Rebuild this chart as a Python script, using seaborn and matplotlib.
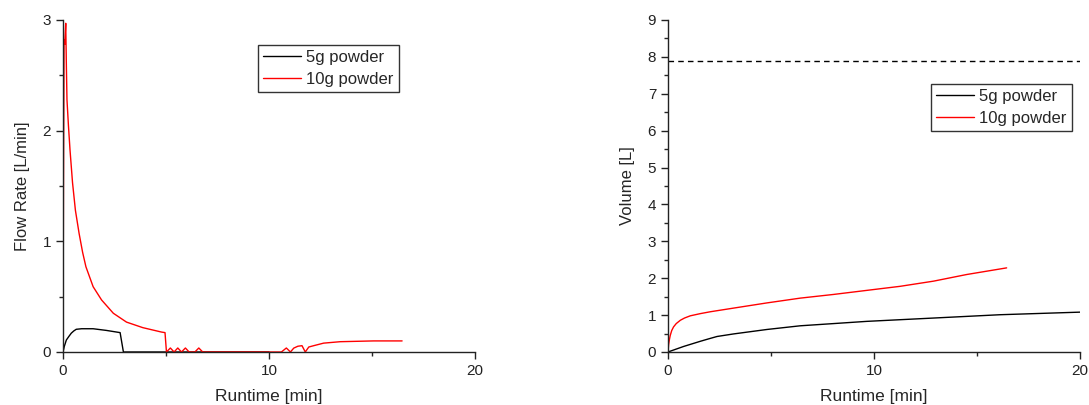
import matplotlib
matplotlib.use('Agg')
import matplotlib.pyplot as plt
import pandas as pd
import seaborn as sns
from matplotlib.ticker import MultipleLocator

# Flow rate data
flow_5g_t = [0, 0.06, 0.16, 0.28, 0.4, 0.52, 0.64, 0.9, 1.46, 2.1, 2.77, 2.93, 4.0, 6.6, 10.0]
flow_5g_v = [0, 0.05, 0.108, 0.14, 0.17, 0.19, 0.205, 0.21, 0.21, 0.195, 0.175, 0, 0, 0, 0]

flow_10g_t = [0, 0.02, 0.05, 0.08, 0.13, 0.16, 0.19, 0.26, 0.34, 0.46, 0.6, 0.78, 0.95, 1.11, 1.46, 1.87,
              2.44, 3.08, 3.87, 4.78, 4.95,
              5.02, 5.21, 5.39, 5.57, 5.75, 5.94, 6.12, 6.4, 6.59, 6.78, 10.6, 10.84, 11.04, 11.2, 11.4, 11.6,
              11.76, 11.93, 12.17, 12.65, 13.46, 15.08, 16.46]
flow_10g_v = [0, 1.5, 2.82, 2.78, 2.97, 2.6, 2.28, 2.05, 1.82, 1.53, 1.28, 1.07, 0.9, 0.77, 0.59, 0.47,
              0.35, 0.27, 0.22, 0.18, 0.175,
              0, 0.036, 0, 0.036, 0, 0.036, 0, 0, 0.036, 0, 0, 0.036, 0, 0.035, 0.052, 0.057,
              0, 0.045, 0.057, 0.08, 0.093, 0.1, 0.1]

# Volume data
vol_5g_t = [0, 0.76, 1.57, 2.0, 2.38, 3.19, 4.8, 6.42, 8.04, 9.65, 12.89, 16.12, 20.0]
vol_5g_v = [0, 0.15, 0.29, 0.36, 0.42, 0.49, 0.61, 0.71, 0.77, 0.83, 0.92, 1.01, 1.08]

vol_10g_t = [0, 0.03, 0.07, 0.11, 0.18, 0.27, 0.4, 0.6, 0.8, 1.08, 1.57, 2.05, 3.19, 4.8, 6.42, 8.04, 9.65,
             11.27, 12.89, 14.5, 16.44]
vol_10g_v = [0, 0.2, 0.34, 0.45, 0.58, 0.68, 0.77, 0.86, 0.92, 0.98, 1.04, 1.09, 1.19, 1.33, 1.46, 1.56, 1.67,
             1.78, 1.92, 2.1, 2.28]

max_volume = 7.9

labels = ['5g powder', '10g powder']
colors = ['black', 'red']

df_flow = pd.concat([
    pd.DataFrame({'t': flow_5g_t, 'v': flow_5g_v, 'sample': labels[0]}),
    pd.DataFrame({'t': flow_10g_t, 'v': flow_10g_v, 'sample': labels[1]}),
])
df_vol = pd.concat([
    pd.DataFrame({'t': vol_5g_t, 'v': vol_5g_v, 'sample': labels[0]}),
    pd.DataFrame({'t': vol_10g_t, 'v': vol_10g_v, 'sample': labels[1]}),
])

sns.set_style('ticks')
plt.rcParams['font.family'] = ['Liberation Sans', 'DejaVu Sans']

fig = plt.figure(figsize=(10.89, 4.05), dpi=100)
ax1 = fig.add_axes([0.0579, 0.1309, 0.3783, 0.8198])
ax2 = fig.add_axes([0.6134, 0.1309, 0.3783, 0.8198])

pal = dict(zip(labels, colors))
sns.lineplot(data=df_flow, x='t', y='v', hue='sample', palette=pal, ax=ax1, lw=1.0, sort=False, estimator=None)
sns.lineplot(data=df_vol, x='t', y='v', hue='sample', palette=pal, ax=ax2, lw=1.0, sort=False, estimator=None)
ax2.axhline(max_volume, color='black', lw=1.0, ls=(0, (4, 3)))

for ax, ymax in [(ax1, 3), (ax2, 9)]:
    ax.set_xlim(0, 20)
    ax.set_ylim(0, ymax)
    ax.xaxis.set_major_locator(MultipleLocator(10))
    ax.xaxis.set_minor_locator(MultipleLocator(5))
    ax.yaxis.set_major_locator(MultipleLocator(1))
    ax.yaxis.set_minor_locator(MultipleLocator(0.5))
    ax.tick_params(which='major', length=5, width=1, labelsize=11, colors='#222222')
    ax.tick_params(which='minor', length=3, width=1)
    ax.set_xlabel('Runtime [min]', fontsize=12.5, labelpad=8)
    for s in ['left', 'bottom']:
        ax.spines[s].set_linewidth(1)
        ax.spines[s].set_color('#222222')
    sns.despine(ax=ax)

ax1.set_ylabel('Flow Rate [L/min]', fontsize=12, labelpad=9)
ax2.set_ylabel('Volume [L]', fontsize=12, labelpad=9)

for ax, anchor in [(ax1, (0.473, 0.925)), (ax2, (0.638, 0.807))]:
    leg = ax.legend(loc='upper left', bbox_to_anchor=anchor, frameon=True, fancybox=False,
                    edgecolor='black', fontsize=12, borderaxespad=0, handlelength=2.3,
                    borderpad=0.3, labelspacing=0.4, handletextpad=0.3)
    leg.get_frame().set_linewidth(1)
    leg.set_title(None)

fig.savefig('out.png', dpi=100)
